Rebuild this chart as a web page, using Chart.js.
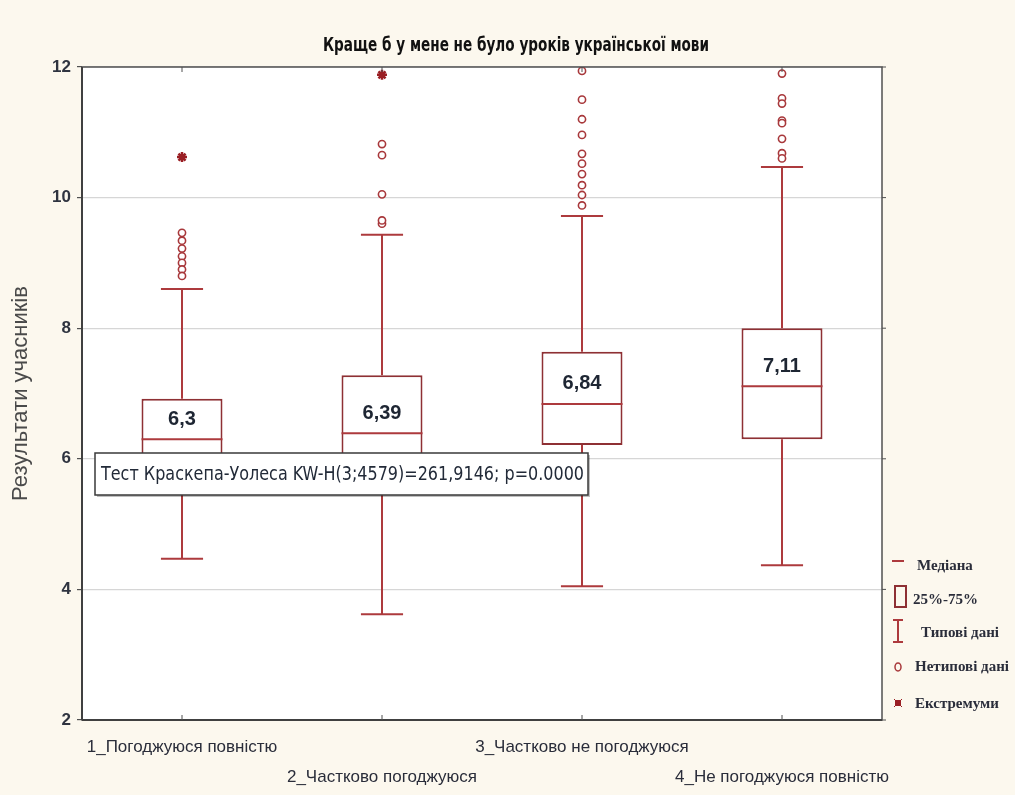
<!DOCTYPE html>
<html>
<head>
<meta charset="utf-8">
<script src="https://cdn.jsdelivr.net/npm/chart.js@4.4.1/dist/chart.umd.min.js"></script>
<style>
  html, body { margin: 0; padding: 0; background: #fcf8ee; }
  canvas { display: block; }
</style>
</head>
<body>
<canvas id="c" width="1015" height="795"></canvas>
<script>
// ---------- data ----------
const chartTitle = 'Краще б у мене не було уроків української мови';
const yTitle = 'Результати учасників';
const testNote = 'Тест Краскепа-Уолеса KW-H(3;4579)=261,9146; p=0.0000';
const categories = ['1_Погоджуюся повністю', '2_Частково погоджуюся', '3_Частково не погоджуюся', '4_Не погоджуюся повністю'];
const q1 = [5.80, 5.80, 6.21, 6.30];
const q3 = [6.92, 7.28, 7.64, 8.00];
const medians = [6.30, 6.39, 6.84, 7.11];
const whiskerLow = [4.47, 3.62, 4.05, 4.37];
const whiskerHigh = [8.60, 9.43, 9.72, 10.47];
const outliers1 = [9.46, 9.34, 9.22, 9.10, 9.00, 8.90, 8.80];
const outliers2 = [9.60, 9.65, 10.05, 10.65, 10.82];
const outliers3 = [11.94, 11.50, 11.20, 10.96, 10.67, 10.52, 10.36, 10.19, 10.04, 9.88];
const outliers4 = [11.90, 11.52, 11.44, 11.18, 11.14, 10.90, 10.68, 10.60];
const extremes1 = [10.62];
const extremes2 = [11.88];
const yTicks = [2, 4, 6, 8, 10, 12];
const legendLabels = ['Медіана', '25%-75%', 'Типові дані', 'Нетипові дані', 'Екстремуми'];

// ---------- styles ----------
const NARROW = "'Liberation Sans Narrow', 'Arial Narrow', 'DejaVu Sans Condensed', sans-serif";
const SANS = "'Liberation Sans', Arial, sans-serif";
const SERIF = "'Liberation Serif', 'Times New Roman', serif";
const BOX_COLOR = '#8e3034';
const WHISK_COLOR = '#ad3a3d';
const OUT_COLOR = '#a8383b';
const EXT_COLOR = '#9a1f24';

const outlierSets = [outliers1, outliers2, outliers3, outliers4];
const extremeSets = [extremes1, extremes2];

const outlierData = [];
outlierSets.forEach((arr, i) => arr.forEach(v => outlierData.push({ x: categories[i], y: v })));
const extremeData = [];
extremeSets.forEach((arr, i) => arr.forEach(v => extremeData.push({ x: categories[i], y: v })));

function line(ctx, x1, y1, x2, y2) {
  ctx.beginPath(); ctx.moveTo(x1, y1); ctx.lineTo(x2, y2); ctx.stroke();
}

const boxPlugin = {
  id: 'boxParts',
  beforeDraw(chart) {
    const { ctx, chartArea: a } = chart;
    ctx.save();
    ctx.fillStyle = '#ffffff';
    ctx.fillRect(a.left, a.top, a.right - a.left, a.bottom - a.top);
    ctx.restore();
  },
  beforeDatasetsDraw(chart) {
    const { ctx, scales: { x, y } } = chart;
    const meta = chart.getDatasetMeta(2);
    ctx.save();
    ctx.strokeStyle = WHISK_COLOR;
    ctx.lineWidth = 2;
    categories.forEach((c, i) => {
      const cx = x.getPixelForValue(i);
      const half = meta.data[i].width / 2;
      const cap = half * 0.52;
      const yH = y.getPixelForValue(whiskerHigh[i]);
      const yL = y.getPixelForValue(whiskerLow[i]);
      line(ctx, cx, y.getPixelForValue(q3[i]), cx, yH);
      line(ctx, cx - cap, yH, cx + cap, yH);
      line(ctx, cx, y.getPixelForValue(q1[i]), cx, yL);
      line(ctx, cx - cap, yL, cx + cap, yL);
    });
    ctx.restore();
  },
  afterDatasetsDraw(chart) {
    const { ctx, chartArea: a, scales: { x, y } } = chart;
    const meta = chart.getDatasetMeta(2);
    ctx.save();
    // medians + labels
    categories.forEach((c, i) => {
      const cx = x.getPixelForValue(i);
      const half = meta.data[i].width / 2;
      const ym = y.getPixelForValue(medians[i]);
      ctx.strokeStyle = WHISK_COLOR;
      ctx.lineWidth = 2;
      line(ctx, cx - half, ym, cx + half, ym);
      ctx.fillStyle = '#1e2633';
      ctx.font = "bold 20px " + SANS;
      ctx.textAlign = 'center';
      ctx.textBaseline = 'middle';
      ctx.fillText(String(medians[i]).replace('.', ','), cx, ym - 20);
    });
    // test note box
    const bx = a.left + 13, by = a.top + 386, bw = 493, bh = 42;
    ctx.fillStyle = 'rgba(0,0,0,0.25)';
    ctx.fillRect(bx + 2, by + 2, bw, bh);
    ctx.fillStyle = '#ffffff';
    ctx.fillRect(bx, by, bw, bh);
    ctx.strokeStyle = '#3a3a3a';
    ctx.lineWidth = 1.5;
    ctx.strokeRect(bx, by, bw, bh);
    ctx.fillStyle = '#222a38';
    ctx.font = "20px " + NARROW;
    ctx.textAlign = 'left';
    ctx.textBaseline = 'middle';
    ctx.fillText(testNote, bx + 6, by + bh / 2 + 1, bw - 10);
    // frame
    ctx.strokeStyle = '#505050';
    ctx.lineWidth = 1.5;
    ctx.strokeRect(a.left, a.top, a.right - a.left, a.bottom - a.top);
    ctx.lineWidth = 2;
    ctx.strokeStyle = '#404040';
    line(ctx, a.left, a.bottom, a.right, a.bottom);
    line(ctx, a.left, a.top, a.left, a.bottom);
    // inner ticks on top and bottom, right
    ctx.lineWidth = 1;
    ctx.strokeStyle = '#505050';
    categories.forEach((c, i) => {
      const cx = x.getPixelForValue(i);
      line(ctx, cx, a.bottom, cx, a.bottom - 5);
      line(ctx, cx, a.top, cx, a.top + 5);
    });
    yTicks.forEach(t => {
      const yy = y.getPixelForValue(t);
      line(ctx, a.right, yy, a.right + 4, yy);
    });
    ctx.restore();
  },
  afterDraw(chart) {
    const { ctx } = chart;
    ctx.save();
    // title
    ctx.fillStyle = '#111111';
    ctx.font = "bold 19px " + NARROW;
    ctx.textAlign = 'center';
    ctx.textBaseline = 'middle';
    ctx.fillText(chartTitle, 516, 46, 386);
    // legend
    const lx = 898;
    const rows = [561, 596, 631, 667, 703];
    ctx.strokeStyle = WHISK_COLOR;
    ctx.lineWidth = 2;
    line(ctx, 892, rows[0], 904, rows[0]);
    ctx.strokeStyle = BOX_COLOR;
    ctx.strokeRect(895, rows[1] - 10, 11, 21);
    ctx.strokeStyle = WHISK_COLOR;
    line(ctx, lx, rows[2] - 11, lx, rows[2] + 11);
    line(ctx, lx - 5, rows[2] - 11, lx + 5, rows[2] - 11);
    line(ctx, lx - 5, rows[2] + 11, lx + 5, rows[2] + 11);
    ctx.lineWidth = 1.5;
    ctx.strokeStyle = OUT_COLOR;
    ctx.beginPath(); ctx.ellipse(lx, rows[3], 3, 4, 0, 0, Math.PI * 2); ctx.stroke();
    ctx.fillStyle = EXT_COLOR;
    ctx.fillRect(lx - 3, rows[4] - 3, 6, 6);
    ctx.lineWidth = 1;
    ctx.strokeStyle = EXT_COLOR;
    line(ctx, lx - 4, rows[4] - 4, lx + 4, rows[4] + 4);
    line(ctx, lx + 4, rows[4] - 4, lx - 4, rows[4] + 4);
    ctx.fillStyle = '#2a2d3a';
    ctx.font = "bold 15px " + SERIF;
    ctx.textAlign = 'left';
    ctx.textBaseline = 'middle';
    const tx = [917, 913, 921, 915, 915];
    const ty = [566, 600, 633, 667, 704];
    legendLabels.forEach((t, i) => ctx.fillText(t, tx[i], ty[i], 1013 - tx[i]));
    ctx.restore();
  }
};

new Chart(document.getElementById('c'), {
  type: 'bar',
  data: {
    labels: categories,
    datasets: [
      {
        type: 'line',
        label: 'Екстремуми',
        data: extremeData,
        showLine: false,
        pointStyle: 'star',
        pointRadius: 5,
        pointBorderWidth: 2.5,
        pointBorderColor: EXT_COLOR,
        pointBackgroundColor: EXT_COLOR
      },
      {
        type: 'line',
        label: 'Нетипові дані',
        data: outlierData,
        showLine: false,
        pointStyle: 'circle',
        pointRadius: 3.6,
        pointBorderWidth: 1.6,
        pointBorderColor: OUT_COLOR,
        pointBackgroundColor: '#ffffff'
      },
      {
        label: '25%-75%',
        data: categories.map((c, i) => [q1[i], q3[i]]),
        backgroundColor: '#ffffff',
        borderColor: BOX_COLOR,
        borderWidth: 2,
        borderSkipped: false,
        barPercentage: 0.405,
        categoryPercentage: 1
      }
    ]
  },
  options: {
    responsive: false,
    animation: false,
    devicePixelRatio: 1,
    layout: { padding: { top: 67, right: 133, left: 0, bottom: 0 } },
    plugins: {
      legend: { display: false },
      tooltip: { enabled: false },
      title: { display: false }
    },
    scales: {
      x: {
        offset: true,
        grid: { display: false, drawTicks: false },
        border: { display: false },
        ticks: {
          autoSkip: false,
          maxRotation: 0,
          minRotation: 0,
          padding: 12,
          color: '#2a2d3a',
          font: { family: SANS, size: 17, lineHeight: 1.765 },
          callback: (v, i) => (i % 2 === 0 ? [categories[i], ''] : ['', categories[i]])
        },
        afterFit: s => { s.height = 75; }
      },
      y: {
        min: 2,
        max: 12,
        grid: { color: '#d6d6d6', lineWidth: 1.2, tickColor: '#505050', tickLength: 5, drawTicks: true },
        border: { display: false },
        ticks: {
          stepSize: 2,
          padding: 6,
          color: '#2f3440',
          font: { family: SANS, size: 17, weight: 'bold' }
        },
        title: {
          display: true,
          text: yTitle,
          color: '#4a4a4a',
          font: { family: SANS, size: 22 },
          padding: { top: 8, bottom: 0 }
        },
        afterFit: s => { s.width = 82; }
      }
    }
  },
  plugins: [boxPlugin]
});
</script>
</body>
</html>
